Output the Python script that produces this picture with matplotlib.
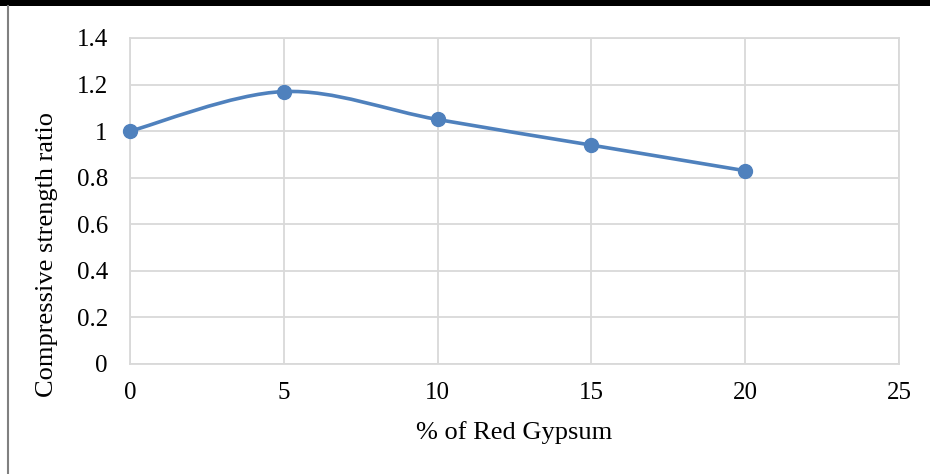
import matplotlib
matplotlib.use("Agg")
import matplotlib.pyplot as plt
from matplotlib.path import Path
from matplotlib.patches import PathPatch, Rectangle
from matplotlib.lines import Line2D

plt.rcParams['font.family'] = ['Liberation Serif', 'DejaVu Serif']

gypsum = [0, 5, 10, 15, 20]
ratio = [1.0, 1.17, 1.05, 0.94, 0.83]
x_ticks = [0, 5, 10, 15, 20, 25]
y_ticks = [0, 0.2, 0.4, 0.6, 0.8, 1.0, 1.2, 1.4]
y_labels = ['0', '0.2', '0.4', '0.6', '0.8', '1', '1.2', '1.4']

blue = '#4F81BD'
grid = '#D9D9D9'

fig = plt.figure(figsize=(9.3, 4.74), dpi=100)
ax = fig.add_axes([130/930, 1 - 364/474, (899 - 130)/930, (364 - 38)/474])

# excel style smoothed line (bezier through the points)
pts = list(zip(gypsum, ratio))
verts = [pts[0]]
codes = [Path.MOVETO]
n = len(pts)
for i in range(n - 1):
    p0 = pts[max(i - 1, 0)]
    p1 = pts[i]
    p2 = pts[i + 1]
    p3 = pts[min(i + 2, n - 1)]
    c1 = (p1[0] + (p2[0] - p0[0]) / 6, p1[1] + (p2[1] - p0[1]) / 6)
    c2 = (p2[0] - (p3[0] - p1[0]) / 6, p2[1] - (p3[1] - p1[1]) / 6)
    verts += [c1, c2, p2]
    codes += [Path.CURVE4] * 3
ax.add_patch(PathPatch(Path(verts, codes), fill=False, edgecolor=blue,
                       lw=2.6, capstyle='round', zorder=3))
ax.plot(gypsum, ratio, ls='none', marker='o', ms=10, color=blue, zorder=4,
        clip_on=False)

ax.set_xlim(0, 25)
ax.set_ylim(0, 1.4)
ax.set_xticks(x_ticks)
ax.set_yticks(y_ticks)
ax.set_yticklabels(y_labels)
ax.grid(True, color=grid, lw=1.3)
ax.set_axisbelow(True)
for s in ax.spines.values():
    s.set_color(grid)
    s.set_linewidth(1.3)
ax.tick_params(length=0, labelsize=18, pad=13)
ax.tick_params(axis='y', pad=16)
ax.set_xlabel('% of Red Gypsum', fontsize=19, labelpad=12)
ax.set_ylabel('Compressive strength ratio', fontsize=19)
ax.yaxis.set_label_coords(-0.094, 0.337)

# page edges
fig.add_artist(Rectangle((0, 1 - 6/474), 1, 6/474, transform=fig.transFigure,
                         color='black', lw=0))
fig.add_artist(Line2D([8/930, 8/930], [0, 1 - 6/474], transform=fig.transFigure,
                      color='#808080', lw=1.5))

fig.savefig('out.png', dpi=100)
